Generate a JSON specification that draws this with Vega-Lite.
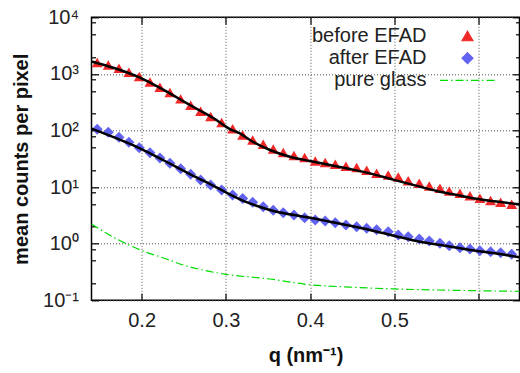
{
  "$schema": "https://vega.github.io/schema/vega-lite/v6.json",
  "width": 428,
  "height": 283,
  "autosize": {"type": "none"},
  "padding": {"left": 91.5, "top": 17.3, "right": 0, "bottom": 72.7},
  "background": "white",
  "config": {
    "view": {"stroke": "black", "strokeWidth": 1.5},
    "font": "Liberation Sans",
    "axis": {
      "domain": false,
      "labelFont": "Liberation Sans",
      "labelFontSize": 20,
      "labelColor": "#222222",
      "tickColor": "black",
      "tickWidth": 1.2,
      "gridColor": "#555555",
      "gridDash": [1, 2],
      "gridWidth": 1,
      "gridOpacity": 1,
      "titleFont": "Liberation Sans",
      "titleFontSize": 20,
      "titleFontWeight": "bold",
      "titleColor": "#111111"
    }
  },
  "datasets": {
    "glass": [
      {"q": 0.1405, "value": 2.23, "series": "pure glass"},
      {"q": 0.1683, "value": 1.26, "series": "pure glass"},
      {"q": 0.2, "value": 0.759, "series": "pure glass"},
      {"q": 0.2277, "value": 0.548, "series": "pure glass"},
      {"q": 0.2494, "value": 0.421, "series": "pure glass"},
      {"q": 0.2751, "value": 0.336, "series": "pure glass"},
      {"q": 0.3, "value": 0.288, "series": "pure glass"},
      {"q": 0.3523, "value": 0.238, "series": "pure glass"},
      {"q": 0.4, "value": 0.188, "series": "pure glass"},
      {"q": 0.447, "value": 0.171, "series": "pure glass"},
      {"q": 0.4987, "value": 0.159, "series": "pure glass"},
      {"q": 0.599, "value": 0.1477, "series": "pure glass"},
      {"q": 0.6485, "value": 0.144, "series": "pure glass"}
    ],
    "points": [
      {"q": 0.1473, "value": 1585, "series": "before EFAD"},
      {"q": 0.1604, "value": 1442, "series": "before EFAD"},
      {"q": 0.1731, "value": 1261, "series": "before EFAD"},
      {"q": 0.1849, "value": 1072, "series": "before EFAD"},
      {"q": 0.1972, "value": 896, "series": "before EFAD"},
      {"q": 0.2099, "value": 722, "series": "before EFAD"},
      {"q": 0.2217, "value": 582, "series": "before EFAD"},
      {"q": 0.2336, "value": 468, "series": "before EFAD"},
      {"q": 0.2463, "value": 362, "series": "before EFAD"},
      {"q": 0.2582, "value": 280, "series": "before EFAD"},
      {"q": 0.27, "value": 219, "series": "before EFAD"},
      {"q": 0.2819, "value": 176, "series": "before EFAD"},
      {"q": 0.295, "value": 138, "series": "before EFAD"},
      {"q": 0.308, "value": 107, "series": "before EFAD"},
      {"q": 0.3199, "value": 83.6, "series": "before EFAD"},
      {"q": 0.3318, "value": 68.2, "series": "before EFAD"},
      {"q": 0.3443, "value": 57.3, "series": "before EFAD"},
      {"q": 0.3562, "value": 47.3, "series": "before EFAD"},
      {"q": 0.3681, "value": 40.7, "series": "before EFAD"},
      {"q": 0.3808, "value": 36.0, "series": "before EFAD"},
      {"q": 0.3935, "value": 33.2, "series": "before EFAD"},
      {"q": 0.4061, "value": 29.0, "series": "before EFAD"},
      {"q": 0.4179, "value": 27.1, "series": "before EFAD"},
      {"q": 0.4298, "value": 25.4, "series": "before EFAD"},
      {"q": 0.4425, "value": 23.4, "series": "before EFAD"},
      {"q": 0.4552, "value": 22.1, "series": "before EFAD"},
      {"q": 0.4671, "value": 19.9, "series": "before EFAD"},
      {"q": 0.4789, "value": 17.5, "series": "before EFAD"},
      {"q": 0.4927, "value": 16.4, "series": "before EFAD"},
      {"q": 0.5046, "value": 15.1, "series": "before EFAD"},
      {"q": 0.5164, "value": 13.0, "series": "before EFAD"},
      {"q": 0.5295, "value": 11.7, "series": "before EFAD"},
      {"q": 0.5414, "value": 10.5, "series": "before EFAD"},
      {"q": 0.5541, "value": 9.57, "series": "before EFAD"},
      {"q": 0.5651, "value": 8.57, "series": "before EFAD"},
      {"q": 0.5778, "value": 7.8, "series": "before EFAD"},
      {"q": 0.5897, "value": 7.0, "series": "before EFAD"},
      {"q": 0.6015, "value": 6.37, "series": "before EFAD"},
      {"q": 0.6142, "value": 5.78, "series": "before EFAD"},
      {"q": 0.6261, "value": 5.41, "series": "before EFAD"},
      {"q": 0.6392, "value": 4.99, "series": "before EFAD"},
      {"q": 0.1473, "value": 105, "series": "after EFAD"},
      {"q": 0.1604, "value": 92.9, "series": "after EFAD"},
      {"q": 0.1731, "value": 75.8, "series": "after EFAD"},
      {"q": 0.1849, "value": 61.9, "series": "after EFAD"},
      {"q": 0.1972, "value": 49.7, "series": "after EFAD"},
      {"q": 0.2099, "value": 40.5, "series": "after EFAD"},
      {"q": 0.2217, "value": 32.7, "series": "after EFAD"},
      {"q": 0.2336, "value": 26.3, "series": "after EFAD"},
      {"q": 0.2463, "value": 21.1, "series": "after EFAD"},
      {"q": 0.2582, "value": 16.8, "series": "after EFAD"},
      {"q": 0.27, "value": 13.3, "series": "after EFAD"},
      {"q": 0.2819, "value": 10.9, "series": "after EFAD"},
      {"q": 0.295, "value": 8.89, "series": "after EFAD"},
      {"q": 0.308, "value": 7.25, "series": "after EFAD"},
      {"q": 0.3199, "value": 6.3, "series": "after EFAD"},
      {"q": 0.3318, "value": 5.39, "series": "after EFAD"},
      {"q": 0.3443, "value": 4.5, "series": "after EFAD"},
      {"q": 0.3562, "value": 3.89, "series": "after EFAD"},
      {"q": 0.3681, "value": 3.53, "series": "after EFAD"},
      {"q": 0.3808, "value": 3.21, "series": "after EFAD"},
      {"q": 0.3935, "value": 2.88, "series": "after EFAD"},
      {"q": 0.4061, "value": 2.62, "series": "after EFAD"},
      {"q": 0.4179, "value": 2.52, "series": "after EFAD"},
      {"q": 0.4298, "value": 2.35, "series": "after EFAD"},
      {"q": 0.4425, "value": 2.14, "series": "after EFAD"},
      {"q": 0.4552, "value": 2.0, "series": "after EFAD"},
      {"q": 0.4671, "value": 1.87, "series": "after EFAD"},
      {"q": 0.4789, "value": 1.76, "series": "after EFAD"},
      {"q": 0.4927, "value": 1.63, "series": "after EFAD"},
      {"q": 0.5046, "value": 1.43, "series": "after EFAD"},
      {"q": 0.5164, "value": 1.33, "series": "after EFAD"},
      {"q": 0.5295, "value": 1.21, "series": "after EFAD"},
      {"q": 0.5414, "value": 1.12, "series": "after EFAD"},
      {"q": 0.5541, "value": 1.02, "series": "after EFAD"},
      {"q": 0.5651, "value": 0.923, "series": "after EFAD"},
      {"q": 0.5778, "value": 0.85, "series": "after EFAD"},
      {"q": 0.5897, "value": 0.806, "series": "after EFAD"},
      {"q": 0.6015, "value": 0.752, "series": "after EFAD"},
      {"q": 0.6142, "value": 0.722, "series": "after EFAD"},
      {"q": 0.6261, "value": 0.693, "series": "after EFAD"},
      {"q": 0.6392, "value": 0.65, "series": "after EFAD"}
    ],
    "fitBefore": [
      {"q": 0.1405, "value": 1656},
      {"q": 0.1683, "value": 1256},
      {"q": 0.198, "value": 857},
      {"q": 0.2277, "value": 505},
      {"q": 0.2573, "value": 282},
      {"q": 0.287, "value": 160},
      {"q": 0.3048, "value": 106},
      {"q": 0.3167, "value": 89.3},
      {"q": 0.3285, "value": 68},
      {"q": 0.3523, "value": 45.2},
      {"q": 0.3759, "value": 34.4},
      {"q": 0.3997, "value": 28.9},
      {"q": 0.4234, "value": 24.6},
      {"q": 0.4472, "value": 20.9},
      {"q": 0.4709, "value": 17.5},
      {"q": 0.5006, "value": 13.3},
      {"q": 0.5303, "value": 10.2},
      {"q": 0.5501, "value": 8.53},
      {"q": 0.5699, "value": 7.46},
      {"q": 0.5897, "value": 6.5},
      {"q": 0.6095, "value": 5.85},
      {"q": 0.6485, "value": 4.97}
    ],
    "fitAfter": [
      {"q": 0.1405, "value": 108},
      {"q": 0.1683, "value": 74.6},
      {"q": 0.198, "value": 48.5},
      {"q": 0.2277, "value": 28.9},
      {"q": 0.2573, "value": 17.0},
      {"q": 0.287, "value": 10.2},
      {"q": 0.3167, "value": 6.08},
      {"q": 0.3285, "value": 5.17},
      {"q": 0.3523, "value": 3.94},
      {"q": 0.3759, "value": 3.3},
      {"q": 0.3997, "value": 2.88},
      {"q": 0.4234, "value": 2.45},
      {"q": 0.4472, "value": 2.08},
      {"q": 0.4709, "value": 1.75},
      {"q": 0.5006, "value": 1.37},
      {"q": 0.5303, "value": 1.08},
      {"q": 0.56, "value": 0.922},
      {"q": 0.5897, "value": 0.774},
      {"q": 0.6194, "value": 0.676},
      {"q": 0.6485, "value": 0.576}
    ]
  },
  "layer": [
    {
      "data": {"name": "glass"},
      "mark": {"type": "line", "strokeWidth": 1.2, "strokeDash": [8, 3, 1.5, 3], "interpolate": "monotone", "clip": true},
      "encoding": {
        "x": {
          "field": "q", "type": "quantitative",
          "scale": {"domain": [0.1405, 0.6485], "nice": false, "zero": false},
          "axis": {
            "orient": "bottom",
            "values": [0.2, 0.3, 0.4, 0.5, 0.6],
            "labelExpr": "datum.value > 0.55 ? '' : format(datum.value, '.1f')",
            "tickSize": -7,
            "labelPadding": 17,
            "grid": true,
            "title": "q (nm⁻¹)",
            "titleY": 61.5,
            "titleBaseline": "alphabetic",
            "encode": {"grid": {"update": {"y": {"value": 0}, "y2": {"signal": "datum.value > 0.35 ? -213.3 : -283"}}}}
          }
        },
        "y": {
          "field": "value", "type": "quantitative",
          "scale": {"type": "log", "domain": [0.1, 10000], "nice": false},
          "axis": {
            "orient": "left",
            "values": [0.1, 1, 10, 100, 1000, 10000],
            "labelExpr": "datum.value < 0.5 ? '10⁻¹' : datum.value < 5 ? '10⁰' : datum.value < 50 ? '10¹' : datum.value < 500 ? '10²' : datum.value < 5000 ? '10³' : '10⁴'",
            "tickSize": -7,
            "labelPadding": 20,
            "grid": true,
            "title": "mean counts per pixel",
            "titleX": -64.5,
            "titleY": 141.5,
            "titleAngle": 270,
            "titleBaseline": "alphabetic",
            "encode": {"grid": {"update": {"x": {"value": 0}, "x2": {"signal": "datum.value > 500 && datum.value < 5000 ? 197.5 : 428"}}}}
          }
        },
        "color": {
          "field": "series", "type": "nominal",
          "scale": {"domain": ["before EFAD", "after EFAD", "pure glass"], "range": ["#f02828", "#6262f0", "#00dd00"]},
          "legend": {
            "orient": "none",
            "legendX": 366,
            "legendY": 8.7,
            "title": null,
            "padding": 0,
            "labelFont": "Liberation Sans",
            "labelFontSize": 20,
            "labelColor": "#222222",
            "labelAlign": "right",
            "labelBaseline": "middle",
            "labelOffset": -51,
            "rowPadding": 2.2,
            "symbolSize": 120,
            "symbolStrokeWidth": 1.2,
            "encode": {
              "symbols": {
                "update": {
                  "shape": {"signal": "datum.value === 'before EFAD' ? 'triangle-up' : datum.value === 'after EFAD' ? 'diamond' : 'stroke'"},
                  "size": {"signal": "datum.value === 'pure glass' ? 3025 : 120"},
                  "fill": {"signal": "datum.value === 'before EFAD' ? '#f02828' : datum.value === 'after EFAD' ? '#6262f0' : 'transparent'"},
                  "stroke": {"signal": "datum.value === 'pure glass' ? '#00dd00' : 'transparent'"},
                  "strokeDash": {"signal": "datum.value === 'pure glass' ? [8, 3, 1.5, 3] : [1, 0]"},
                  "opacity": {"value": 1}
                }
              }
            }
          }
        }
      }
    },
    {
      "data": {"name": "points"},
      "mark": {"type": "point", "filled": true, "size": 120, "opacity": 1, "clip": true},
      "encoding": {
        "x": {
          "field": "q", "type": "quantitative",
          "axis": {"orient": "top", "values": [0.2, 0.3, 0.4, 0.5, 0.6], "labels": false, "grid": false, "tickSize": -7, "title": null}
        },
        "y": {
          "field": "value", "type": "quantitative",
          "axis": {"orient": "right", "values": [0.1, 1, 10, 100, 1000, 10000], "labels": false, "grid": false, "tickSize": -7, "title": null}
        },
        "color": {"field": "series", "type": "nominal"},
        "shape": {
          "field": "series", "type": "nominal",
          "scale": {"domain": ["before EFAD", "after EFAD", "pure glass"], "range": ["triangle-up", "diamond", "stroke"]},
          "legend": null
        }
      }
    },
    {
      "data": {"name": "fitBefore"},
      "mark": {"type": "line", "color": "black", "strokeWidth": 2.5, "interpolate": "monotone", "clip": true},
      "encoding": {
        "x": {"field": "q", "type": "quantitative", "axis": null},
        "y": {
          "field": "value", "type": "quantitative",
          "axis": {"orient": "left", "values": [0.2, 0.5, 0.8, 2, 5, 8, 20, 50, 80, 200, 500, 800, 2000, 5000, 8000], "labels": false, "grid": false, "tickSize": -4, "title": null}
        }
      }
    },
    {
      "data": {"name": "fitAfter"},
      "mark": {"type": "line", "color": "black", "strokeWidth": 2.5, "interpolate": "monotone", "clip": true},
      "encoding": {
        "x": {"field": "q", "type": "quantitative", "axis": null},
        "y": {
          "field": "value", "type": "quantitative",
          "axis": {"orient": "right", "values": [0.2, 0.5, 0.8, 2, 5, 8, 20, 50, 80, 200, 500, 800, 2000, 5000, 8000], "labels": false, "grid": false, "tickSize": -4, "title": null}
        }
      }
    }
  ],
  "resolve": {"axis": {"x": "independent", "y": "independent"}}
}
